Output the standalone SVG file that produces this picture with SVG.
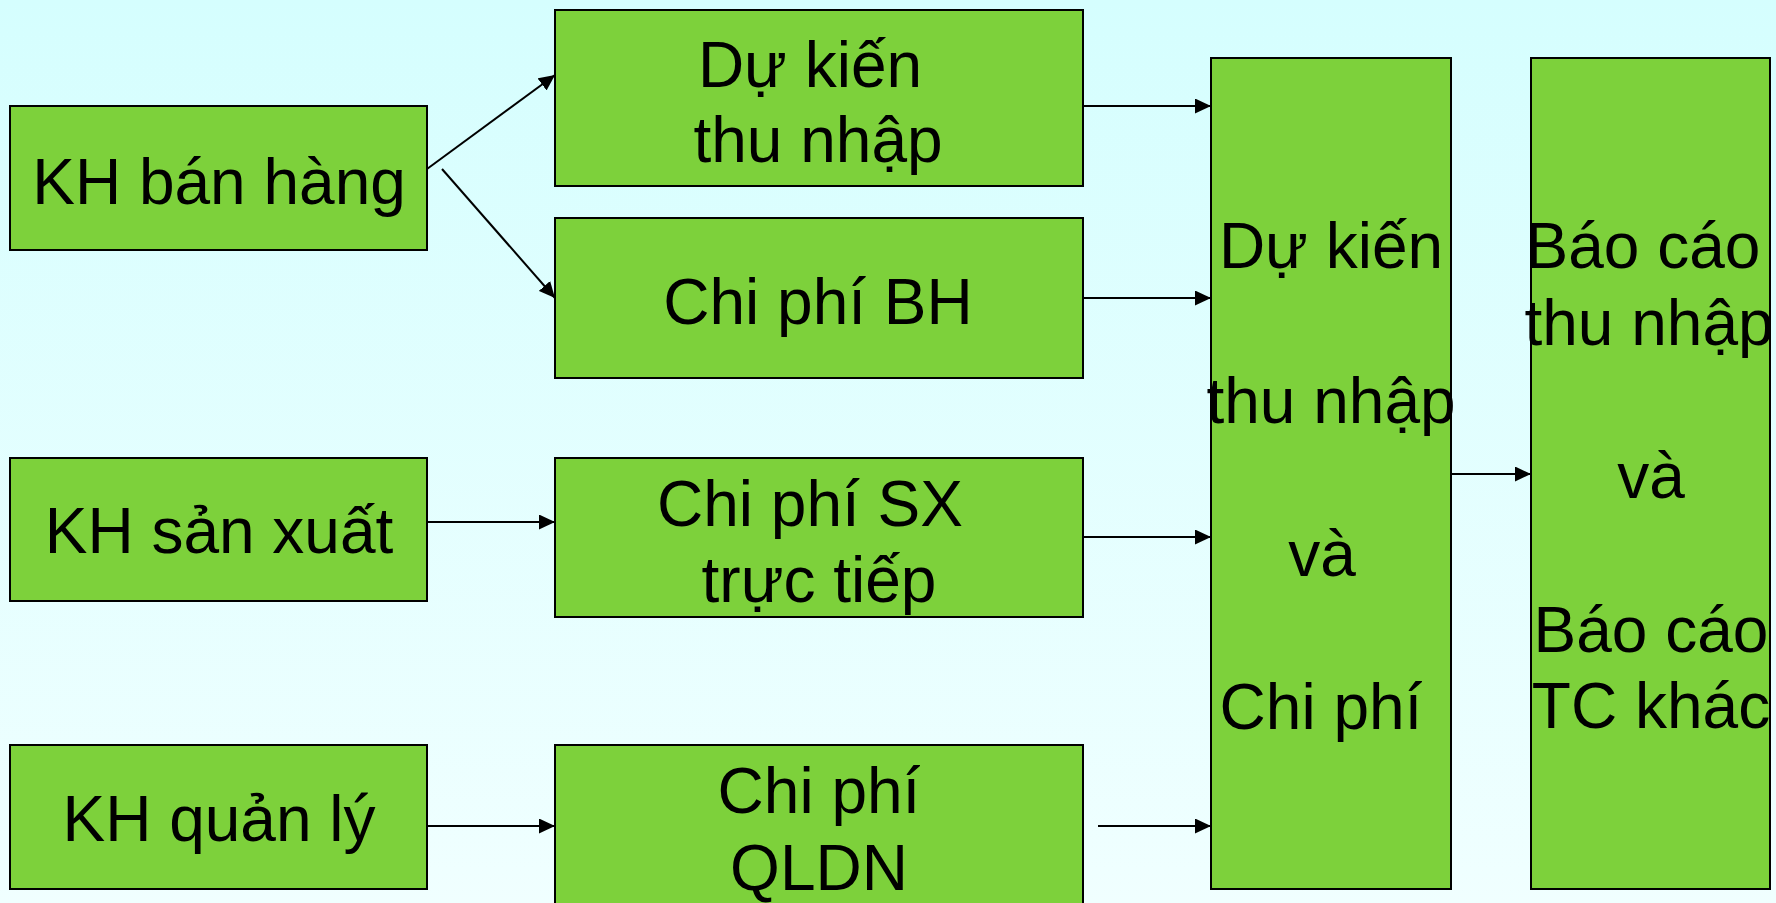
<svg xmlns="http://www.w3.org/2000/svg" width="1776" height="903" viewBox="0 0 1776 903">
<defs>
<linearGradient id="bg" x1="0" y1="0" x2="0" y2="1">
<stop offset="0" stop-color="#D5FEFE"/>
<stop offset="1" stop-color="#F0FFFF"/>
</linearGradient>
<marker id="ah" markerUnits="userSpaceOnUse" markerWidth="16" markerHeight="15" refX="16" refY="7.5" orient="auto">
<path d="M0,0 L16,7.5 L0,15 z" fill="#000"/>
</marker>
<style>
.box{fill:#7DD13B;stroke:#000;stroke-width:2}
.t{font-family:"Liberation Sans",Arial,sans-serif;font-size:64px;fill:#000;text-anchor:middle}
.c{stroke:#000;stroke-width:2;fill:none;marker-end:url(#ah)}
</style>
</defs>
<rect x="0" y="0" width="1776" height="903" fill="url(#bg)"/>
<g id="kh-ban-hang">
<rect class="box" x="10" y="106" width="417" height="144"/>
<text class="t" x="219" y="204">KH bán hàng</text>
</g>
<g id="kh-san-xuat">
<rect class="box" x="10" y="458" width="417" height="143"/>
<text class="t" x="219" y="553">KH sản xuất</text>
</g>
<g id="kh-quan-ly">
<rect class="box" x="10" y="745" width="417" height="144"/>
<text class="t" x="219" y="841">KH quản lý</text>
</g>
<g id="du-kien-thu-nhap">
<rect class="box" x="555" y="10" width="528" height="176"/>
<text class="t" x="810" y="87">Dự kiến</text>
<text class="t" x="818" y="162">thu nhập</text>
</g>
<g id="chi-phi-bh">
<rect class="box" x="555" y="218" width="528" height="160"/>
<text class="t" x="818" y="324">Chi phí BH</text>
</g>
<g id="chi-phi-sx">
<rect class="box" x="555" y="458" width="528" height="159"/>
<text class="t" x="810" y="526">Chi phí SX</text>
<text class="t" x="819" y="602">trực tiếp</text>
</g>
<g id="chi-phi-qldn">
<rect class="box" x="555" y="745" width="528" height="170"/>
<text class="t" x="819" y="813">Chi phí</text>
<text class="t" x="819" y="890">QLDN</text>
</g>
<g id="du-kien-tong">
<rect class="box" x="1211" y="58" width="240" height="831"/>
<text class="t" x="1331" y="268">Dự kiến</text>
<text class="t" x="1331" y="423">thu nhập</text>
<text class="t" x="1322" y="576">và</text>
<text class="t" x="1321" y="729">Chi phí</text>
</g>
<g id="bao-cao">
<rect class="box" x="1531" y="58" width="239" height="831"/>
<text class="t" x="1643" y="268">Báo cáo</text>
<text class="t" x="1649" y="345">thu nhập</text>
<text class="t" x="1651" y="498">và</text>
<text class="t" x="1651" y="652">Báo cáo</text>
<text class="t" x="1651" y="728">TC khác</text>
</g>
<g id="connectors">
<line class="c" x1="427" y1="169" x2="555" y2="75"/>
<line class="c" x1="442" y1="169" x2="555" y2="298"/>
<line class="c" x1="427" y1="522" x2="555" y2="522"/>
<line class="c" x1="427" y1="826" x2="555" y2="826"/>
<line class="c" x1="1083" y1="106" x2="1211" y2="106"/>
<line class="c" x1="1083" y1="298" x2="1211" y2="298"/>
<line class="c" x1="1083" y1="537" x2="1211" y2="537"/>
<line class="c" x1="1098" y1="826" x2="1211" y2="826"/>
<line class="c" x1="1451" y1="474" x2="1531" y2="474"/>
</g>
</svg>
